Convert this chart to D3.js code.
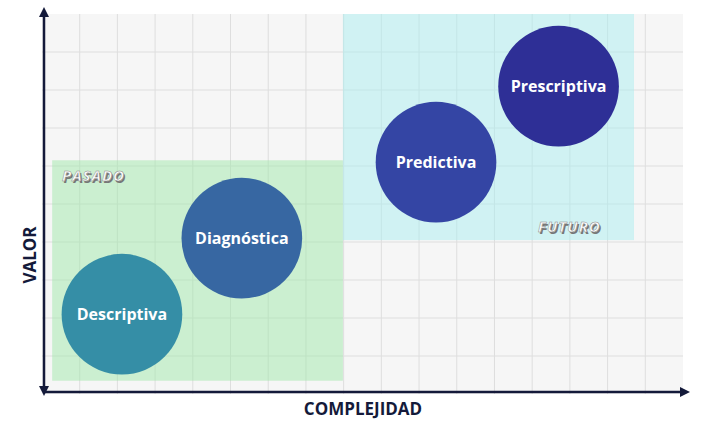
<!DOCTYPE html><html><head><meta charset="utf-8">
<script src="https://cdn.jsdelivr.net/npm/d3@7"></script>
<style>body{margin:0;background:#fff}text{font-family:"Open Sans",sans-serif}</style></head><body>
<svg id="c" width="712" height="437"></svg>
<script>
const stages=["Descriptiva","Diagnóstica","Predictiva","Prescriptiva"];
const complejidad=[2.12,5.3,10.45,13.7];
const valor=[2.1,4.1,6.1,8.1];
const colors=["#358ea6","#3767a2","#3445a4","#2e2f96"];
const zones=["PASADO","FUTURO"];
const zoneX0=[0.27,7.98], zoneX1=[7.98,15.7], zoneY0=[0.35,4.05], zoneY1=[6.15,10.0];
const svg=d3.select("#c");
const x=d3.scaleLinear().domain([0,17]).range([42,683]);
const y=d3.scaleLinear().domain([0,10]).range([394,14]);
svg.append("rect").attr("x",x(0)).attr("y",y(10)).attr("width",x(17)-x(0)).attr("height",y(0)-y(10)).attr("fill","#f6f6f6");
const g=svg.append("g");
g.selectAll(".v").data(d3.range(1,17)).join("line").attr("x1",d=>x(d)).attr("x2",d=>x(d)).attr("y1",y(10)).attr("y2",y(0)).attr("stroke","#dedede");
g.selectAll(".h").data(d3.range(1,10)).join("line").attr("y1",d=>y(d)).attr("y2",d=>y(d)).attr("x1",x(0)).attr("x2",x(17)).attr("stroke","#dedede");
const zc=["rgba(160,232,170,0.5)","rgba(170,238,240,0.5)"];
zones.forEach((z,i)=>{
 svg.append("rect").attr("x",x(zoneX0[i])).attr("width",x(zoneX1[i])-x(zoneX0[i])).attr("y",y(zoneY1[i])).attr("height",y(zoneY0[i])-y(zoneY1[i])).attr("fill",zc[i]);
});
const tx=[62,538],ty=[181,232];
zones.forEach((z,i)=>{
 [[1.5,"#777"],[0,"#fff"]].forEach(([o,c])=>svg.append("text").attr("x",tx[i]+o).attr("y",ty[i]+o).text(z).attr("fill",c).attr("font-size",15).attr("font-weight","bold").attr("font-style","italic").attr("stroke",o?"none":"#888").attr("stroke-width",0.5).attr("letter-spacing",1));
});
const r=x(1.6)-x(0);
stages.forEach((s,i)=>{
 svg.append("circle").attr("cx",x(complejidad[i])).attr("cy",y(valor[i])).attr("r",r).attr("fill",colors[i]);
 svg.append("text").attr("x",x(complejidad[i])).attr("y",y(valor[i])+6).attr("text-anchor","middle").attr("fill","#fff").attr("font-weight","bold").attr("font-size",16).text(s);
});
const defs=svg.append("defs");
defs.append("marker").attr("id","a").attr("viewBox","0 0 10 10").attr("refX",5).attr("refY",5).attr("markerWidth",4).attr("markerHeight",4).attr("orient","auto-start-reverse").append("path").attr("d","M0,0L10,5L0,10z").attr("fill","#141a3a");
svg.append("line").attr("x1",44).attr("y1",391).attr("x2",44).attr("y2",12).attr("stroke","#141a3a").attr("stroke-width",2.5).attr("marker-end","url(#a)").attr("marker-start","url(#a)");
svg.append("line").attr("x1",44).attr("y1",392).attr("x2",685).attr("y2",392).attr("stroke","#141a3a").attr("stroke-width",2.5).attr("marker-end","url(#a)");
svg.append("text").attr("x",363).attr("y",415).attr("text-anchor","middle").attr("font-weight","bold").attr("font-size",17).attr("fill","#141a3a").text("COMPLEJIDAD");
svg.append("text").attr("transform","translate(36,255) rotate(-90)").attr("text-anchor","middle").attr("font-weight","bold").attr("font-size",17).attr("fill","#141a3a").text("VALOR");
</script></body></html>
